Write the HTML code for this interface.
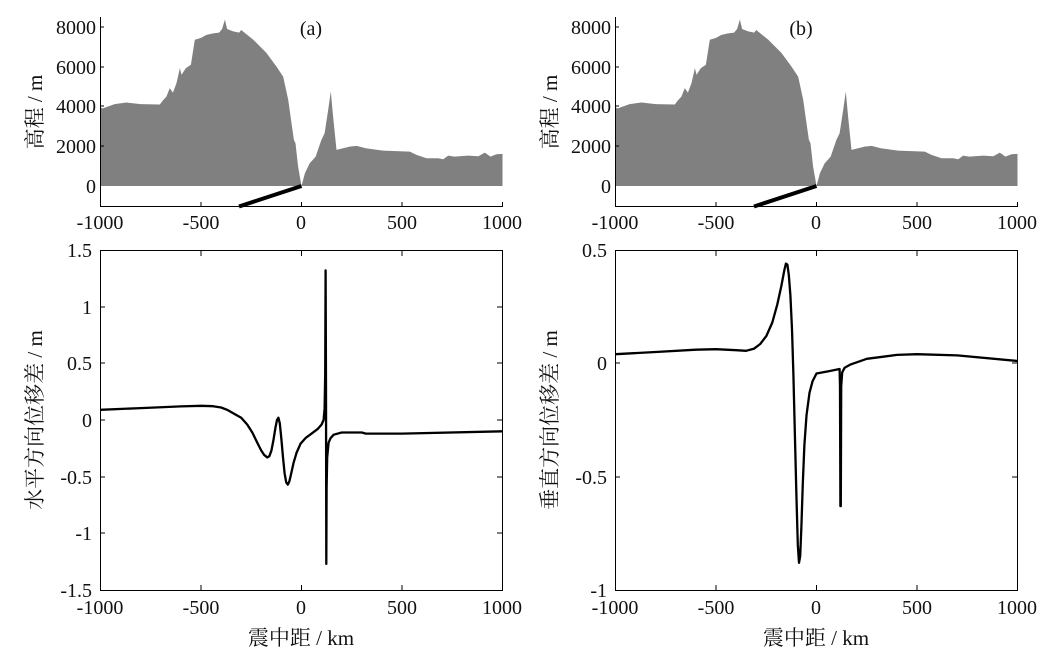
<!DOCTYPE html>
<html><head><meta charset="utf-8"><style>
html,body{margin:0;padding:0;background:#fff;}
svg text{font-family:"Liberation Serif","Noto Serif CJK SC",serif;fill:#111;}
</style></head><body>
<svg id="s" width="1048" height="665" viewBox="0 0 1048 665" xmlns="http://www.w3.org/2000/svg">
<g font-size="20">
<g id="ta">
<path id="elA" fill="#808080" stroke="none" d=""/>
<line x1="100.5" y1="17" x2="100.5" y2="207" stroke="#000" stroke-width="1"/>
<line x1="100" y1="206.5" x2="503" y2="206.5" stroke="#000" stroke-width="1"/>
<line x1="100" y1="27" x2="104" y2="27" stroke="#000"/>
<line x1="100" y1="67" x2="104" y2="67" stroke="#000"/>
<line x1="100" y1="106" x2="104" y2="106" stroke="#000"/>
<line x1="100" y1="146" x2="104" y2="146" stroke="#000"/>
<line x1="201" y1="206" x2="201" y2="202" stroke="#000"/>
<line x1="301.5" y1="206" x2="301.5" y2="202" stroke="#000"/>
<line x1="402" y1="206" x2="402" y2="202" stroke="#000"/>
<line x1="502.5" y1="206" x2="502.5" y2="202" stroke="#000"/>
<line x1="301.5" y1="186" x2="239" y2="206.5" stroke="#000" stroke-width="4"/>
</g>
<text x="96" y="34" text-anchor="end">8000</text>
<text x="96" y="74" text-anchor="end">6000</text>
<text x="96" y="113" text-anchor="end">4000</text>
<text x="96" y="153" text-anchor="end">2000</text>
<text x="96" y="193" text-anchor="end">0</text>
<text x="100" y="229" text-anchor="middle">-1000</text>
<text x="201" y="229" text-anchor="middle">-500</text>
<text x="301" y="229" text-anchor="middle">0</text>
<text x="402" y="229" text-anchor="middle">500</text>
<text x="502" y="229" text-anchor="middle">1000</text>
<text x="311" y="35" text-anchor="middle">(a)</text>
<text transform="translate(42,112) rotate(-90)" text-anchor="middle" font-size="21">高程 / m</text>

<g transform="translate(515,0)">
<use href="#ta"/>
</g>
<text x="611" y="34" text-anchor="end">8000</text>
<text x="611" y="74" text-anchor="end">6000</text>
<text x="611" y="113" text-anchor="end">4000</text>
<text x="611" y="153" text-anchor="end">2000</text>
<text x="611" y="193" text-anchor="end">0</text>
<text x="615" y="229" text-anchor="middle">-1000</text>
<text x="716" y="229" text-anchor="middle">-500</text>
<text x="816" y="229" text-anchor="middle">0</text>
<text x="917" y="229" text-anchor="middle">500</text>
<text x="1017" y="229" text-anchor="middle">1000</text>
<text x="801" y="35" text-anchor="middle">(b)</text>
<text transform="translate(557,112) rotate(-90)" text-anchor="middle" font-size="21">高程 / m</text>

<rect x="100.5" y="250.5" width="402" height="340" fill="none" stroke="#000"/>
<g stroke="#000">
<line x1="100" y1="307" x2="105" y2="307"/><line x1="100" y1="363" x2="105" y2="363"/><line x1="100" y1="420" x2="105" y2="420"/><line x1="100" y1="477" x2="105" y2="477"/><line x1="100" y1="533" x2="105" y2="533"/>
<line x1="502" y1="307" x2="497" y2="307"/><line x1="502" y1="363" x2="497" y2="363"/><line x1="502" y1="420" x2="497" y2="420"/><line x1="502" y1="477" x2="497" y2="477"/><line x1="502" y1="533" x2="497" y2="533"/>
<line x1="201" y1="590" x2="201" y2="585"/><line x1="301.5" y1="590" x2="301.5" y2="585"/><line x1="402" y1="590" x2="402" y2="585"/>
<line x1="201" y1="251" x2="201" y2="256"/><line x1="301.5" y1="251" x2="301.5" y2="256"/><line x1="402" y1="251" x2="402" y2="256"/>
</g>
<path id="cA" fill="none" stroke="#000" stroke-width="2.3" stroke-linejoin="round" d=""/>
<text x="92" y="257" text-anchor="end">1.5</text>
<text x="92" y="314" text-anchor="end">1</text>
<text x="92" y="370" text-anchor="end">0.5</text>
<text x="92" y="427" text-anchor="end">0</text>
<text x="92" y="484" text-anchor="end">-0.5</text>
<text x="92" y="540" text-anchor="end">-1</text>
<text x="92" y="597" text-anchor="end">-1.5</text>
<text x="100" y="614" text-anchor="middle">-1000</text>
<text x="201" y="614" text-anchor="middle">-500</text>
<text x="301" y="614" text-anchor="middle">0</text>
<text x="402" y="614" text-anchor="middle">500</text>
<text x="502" y="614" text-anchor="middle">1000</text>
<text x="301" y="645" text-anchor="middle" font-size="21">震中距 / km</text>
<text transform="translate(42,420) rotate(-90)" text-anchor="middle" font-size="21">水平方向位移差 / m</text>

<rect x="615.5" y="250.5" width="402" height="340" fill="none" stroke="#000"/>
<g stroke="#000">
<line x1="615" y1="363" x2="620" y2="363"/><line x1="615" y1="477" x2="620" y2="477"/>
<line x1="1017" y1="363" x2="1012" y2="363"/><line x1="1017" y1="477" x2="1012" y2="477"/>
<line x1="716" y1="590" x2="716" y2="585"/><line x1="816.5" y1="590" x2="816.5" y2="585"/><line x1="917" y1="590" x2="917" y2="585"/>
<line x1="716" y1="251" x2="716" y2="256"/><line x1="816.5" y1="251" x2="816.5" y2="256"/><line x1="917" y1="251" x2="917" y2="256"/>
</g>
<path id="cB" fill="none" stroke="#000" stroke-width="2.3" stroke-linejoin="round" d=""/>
<text x="607" y="257" text-anchor="end">0.5</text>
<text x="607" y="370" text-anchor="end">0</text>
<text x="607" y="484" text-anchor="end">-0.5</text>
<text x="607" y="597" text-anchor="end">-1</text>
<text x="615" y="614" text-anchor="middle">-1000</text>
<text x="716" y="614" text-anchor="middle">-500</text>
<text x="816" y="614" text-anchor="middle">0</text>
<text x="917" y="614" text-anchor="middle">500</text>
<text x="1017" y="614" text-anchor="middle">1000</text>
<text x="816" y="645" text-anchor="middle" font-size="21">震中距 / km</text>
<text transform="translate(557,420) rotate(-90)" text-anchor="middle" font-size="21">垂直方向位移差 / m</text>
</g>
</svg>
<script>
function X(k,o){return o+100.5+(k+1000)*0.201;}
var el=[[-1000,3966],[-990,3900],[-930,4120],[-871,4200],[-800,4120],[-705,4100],[-690,4300],[-672,4500],[-655,4924],[-640,4700],[-622,5176],[-605,5930],[-597,5600],[-575,5930],[-550,6100],[-531,7360],[-500,7450],[-473,7600],[-440,7680],[-410,7720],[-395,7900],[-381,8370],[-370,7900],[-340,7780],[-310,7720],[-300,7850],[-240,7360],[-174,6690],[-124,6000],[-91,5500],[-66,4340],[-50,3160],[-38,2320],[-30,2150],[-17,975],[0,0],[17,640],[41,1143],[70,1470],[99,2320],[115,2650],[133,3832],[146,4756],[157,3495],[174,1815],[240,1983],[274,2017],[320,1900],[406,1782],[539,1731],[572,1563],[622,1395],[680,1400],[705,1345],[730,1530],[760,1480],[830,1530],[880,1500],[912,1681],[940,1480],[970,1600],[1000,1613]];
var d="M"+X(-1000,0)+",186";
el.forEach(function(p){d+=" L"+X(p[0],0).toFixed(1)+","+(186-p[1]*0.019875).toFixed(1);});
d+=" L"+X(1000,0)+",186Z";
document.getElementById("elA").setAttribute("d",d);
function path(pts,o,y0,s){var r="";pts.forEach(function(p,i){r+=(i?" L":"M")+X(p[0],o).toFixed(1)+","+(y0-p[1]*s).toFixed(1);});return r;}
var a=[[-1000,0.09],[-800,0.105],[-600,0.12],[-500,0.125],[-440,0.122],[-400,0.11],[-370,0.09],[-340,0.06],[-300,0.02],[-270,-0.04],[-245,-0.11],[-220,-0.2],[-200,-0.27],[-185,-0.31],[-170,-0.33],[-160,-0.32],[-150,-0.27],[-140,-0.18],[-130,-0.07],[-122,0.0],[-115,0.02],[-108,-0.03],[-100,-0.17],[-92,-0.33],[-84,-0.47],[-76,-0.55],[-68,-0.57],[-60,-0.54],[-50,-0.46],[-40,-0.38],[-25,-0.29],[-5,-0.21],[20,-0.16],[50,-0.12],[80,-0.08],[100,-0.04],[110,0.0],[115,0.1],[118,0.4],[120,1.32],[122,0.3],[123.5,-1.27],[125,-0.6],[128,-0.33],[135,-0.2],[145,-0.16],[160,-0.13],[200,-0.11],[300,-0.11],[320,-0.12],[500,-0.12],[1000,-0.1]];
document.getElementById("cA").setAttribute("d",path(a,0,420,113.3));
var b=[[-1000,0.04],[-800,0.05],[-600,0.06],[-500,0.062],[-400,0.058],[-350,0.055],[-310,0.065],[-280,0.085],[-250,0.12],[-220,0.18],[-195,0.26],[-175,0.34],[-160,0.41],[-152,0.44],[-145,0.435],[-138,0.39],[-130,0.3],[-122,0.15],[-115,-0.05],[-108,-0.3],[-100,-0.58],[-93,-0.8],[-87,-0.88],[-81,-0.85],[-75,-0.72],[-68,-0.53],[-60,-0.36],[-50,-0.23],[-35,-0.13],[-20,-0.08],[0,-0.045],[60,-0.035],[115,-0.025],[117,-0.1],[119,-0.63],[121,-0.63],[123,-0.1],[128,-0.04],[140,-0.02],[170,-0.005],[250,0.02],[400,0.037],[500,0.04],[700,0.035],[1000,0.01]];
document.getElementById("cB").setAttribute("d",path(b,515,363.3,226.7));
</script>
</body></html>
